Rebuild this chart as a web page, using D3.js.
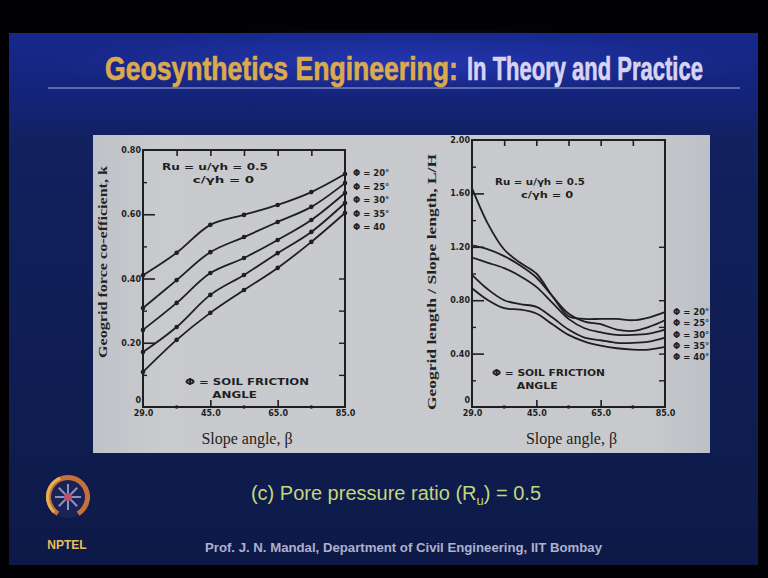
<!DOCTYPE html>
<html>
<head>
<meta charset="utf-8">
<script src="https://cdn.jsdelivr.net/npm/d3@7"></script>
<style>
  html, body { margin: 0; padding: 0; background: #000; }
  svg { display: block; }
</style>
</head>
<body>
<div id="app"></div>
<script>
const WIDTH = 768;
const HEIGHT = 578;

// slope angle (deg) where the curves are sampled
const betaLeft = [25, 35, 45, 55, 65, 75, 85];
const betaRight = [25, 30, 35, 40, 45, 50, 55, 60, 65, 70, 75, 80, 85];

const phiLabelsLeft = ['Φ = 20°', 'Φ = 25°', 'Φ = 30°', 'Φ = 35°', 'Φ = 40'];
const phiLabelsRight = ['Φ = 20°', 'Φ = 25°', 'Φ = 30°', 'Φ = 35°', 'Φ = 40°'];

// geogrid force co-efficient k, one row per phi
const kPhi20 = [0.41, 0.48, 0.567, 0.598, 0.629, 0.669, 0.725];
const kPhi25 = [0.308, 0.395, 0.482, 0.529, 0.576, 0.623, 0.697];
const kPhi30 = [0.24, 0.324, 0.417, 0.464, 0.52, 0.582, 0.666];
const kPhi35 = [0.171, 0.249, 0.349, 0.411, 0.479, 0.545, 0.635];
const kPhi40 = [0.109, 0.209, 0.293, 0.364, 0.433, 0.514, 0.604];

// geogrid length / slope length L/H
const lhPhi20 = [1.64, 1.37, 1.18, 1.08, 1.0, 0.83, 0.68, 0.66, 0.66, 0.66, 0.65, 0.67, 0.71];
const lhPhi25 = [1.21, 1.18, 1.13, 1.06, 0.97, 0.83, 0.70, 0.64, 0.62, 0.58, 0.57, 0.60, 0.65];
const lhPhi30 = [1.12, 1.08, 1.04, 0.98, 0.90, 0.78, 0.66, 0.59, 0.56, 0.54, 0.54, 0.55, 0.58];
const lhPhi35 = [0.99, 0.88, 0.80, 0.77, 0.75, 0.67, 0.58, 0.52, 0.50, 0.48, 0.48, 0.49, 0.52];
const lhPhi40 = [0.89, 0.80, 0.74, 0.73, 0.70, 0.62, 0.54, 0.49, 0.46, 0.44, 0.43, 0.43, 0.45];

const xTickValues = [25, 45, 65, 85];
const xTickLabels = ['29.0', '45.0', '65.0', '85.0'];
const kTickValues = [0, 0.2, 0.4, 0.6, 0.8];
const kTickLabels = ['0', '0.20', '0.40', '0.60', '0.80'];
const lhTickValues = [0, 0.4, 0.8, 1.2, 1.6, 2.0];
const lhTickLabels = ['0', '0.40', '0.80', '1.20', '1.60', '2.00'];

const ink = '#1f1f22';
const stencil = '"DejaVu Sans", sans-serif';
const serif = '"Liberation Serif", "DejaVu Serif", serif';

const svg = d3.select('#app')
  .append('svg')
  .attr('width', WIDTH)
  .attr('height', HEIGHT);

const defs = svg.append('defs');

const bg = defs.append('linearGradient').attr('id', 'slideBg')
  .attr('x1', 0).attr('y1', 0).attr('x2', 0).attr('y2', 1);
bg.append('stop').attr('offset', '0%').attr('stop-color', '#16288a');
bg.append('stop').attr('offset', '12%').attr('stop-color', '#14237a');
bg.append('stop').attr('offset', '20%').attr('stop-color', '#12215f');
bg.append('stop').attr('offset', '100%').attr('stop-color', '#0d1a48');

const glow = defs.append('radialGradient').attr('id', 'titleGlow')
  .attr('cx', '50%').attr('cy', '50%').attr('r', '50%');
glow.append('stop').attr('offset', '0%').attr('stop-color', '#2a3cc0').attr('stop-opacity', 0.7);
glow.append('stop').attr('offset', '100%').attr('stop-color', '#2a3cc0').attr('stop-opacity', 0);

const paper = defs.append('linearGradient').attr('id', 'paper')
  .attr('x1', 0).attr('y1', 0).attr('x2', 1).attr('y2', 0);
paper.append('stop').attr('offset', '0%').attr('stop-color', '#bfc2c8');
paper.append('stop').attr('offset', '10%').attr('stop-color', '#c9cacd');
paper.append('stop').attr('offset', '90%').attr('stop-color', '#c8c9cc');
paper.append('stop').attr('offset', '100%').attr('stop-color', '#bcc0c7');

// slide frame
svg.append('rect').attr('width', WIDTH).attr('height', HEIGHT).attr('fill', '#020204');
svg.append('rect').attr('x', 9).attr('y', 33).attr('width', 749).attr('height', 532)
  .attr('fill', 'url(#slideBg)');
svg.append('ellipse').attr('cx', 400).attr('cy', 62).attr('rx', 360).attr('ry', 34)
  .attr('fill', 'url(#titleGlow)');
svg.append('line').attr('x1', 48).attr('x2', 740).attr('y1', 88).attr('y2', 88)
  .attr('stroke', '#7482b8').attr('stroke-width', 1.5);

// condensed title: squeeze each part horizontally to the width it has in the slide
function squeezed(str, x0, x1, yBase, size, color) {
  const t = svg.append('text').attr('x', 0).attr('y', 0)
    .style('font-family', '"Liberation Sans", Arial, sans-serif').style('font-weight', 'bold')
    .style('font-size', size + 'px').attr('fill', color)
    .attr('stroke', color).attr('stroke-width', 0.7)
    .text(str);
  const w = t.node().getComputedTextLength();
  t.attr('transform', `translate(${x0},${yBase}) scale(${(x1 - x0) / w},1)`);
  return t;
}
squeezed('Geosynthetics Engineering:', 105, 458, 80, 33, '#dba94e');
squeezed('In Theory and Practice', 467, 703, 80, 33, '#d6d4f2');

// scanned figure panel
svg.append('rect').attr('x', 93).attr('y', 135).attr('width', 617).attr('height', 318)
  .attr('fill', 'url(#paper)');

function drawChart(cfg) {
  const x = d3.scaleLinear().domain([25, 85]).range([cfg.x0, cfg.x1]);
  const y = d3.scaleLinear().domain(cfg.yDomain).range([cfg.y1, cfg.y0]);
  const g = svg.append('g');

  // frame
  g.append('rect').attr('x', cfg.x0).attr('y', cfg.y0)
    .attr('width', cfg.x1 - cfg.x0).attr('height', cfg.y1 - cfg.y0)
    .attr('fill', 'none').attr('stroke', ink).attr('stroke-width', 2);

  // left axis, ticks pointing inward
  const left = g.append('g').attr('transform', `translate(${cfg.x0},0)`)
    .call(d3.axisLeft(y).tickValues(cfg.yTicks).tickSize(-12).tickPadding(2)
      .tickFormat((d, i) => cfg.yLabels[i]));
  left.select('.domain').remove();
  left.selectAll('line').attr('stroke', ink).attr('stroke-width', 1.6);
  left.selectAll('text').attr('fill', ink)
    .style('font-family', stencil).style('font-size', '8px').style('font-weight', 'bold');
  left.selectAll('.tick').filter(d => d === cfg.yTicks[cfg.yTicks.length - 1]).select('line').remove();
  const zero = left.selectAll('.tick').filter(d => d === 0);
  zero.select('line').remove();
  zero.select('text').attr('dy', '-0.6em');

  const minorLeft = g.append('g').attr('transform', `translate(${cfg.x0},0)`)
    .call(d3.axisLeft(y).tickValues(cfg.yMinor).tickSize(-4).tickFormat(''));
  minorLeft.select('.domain').remove();
  minorLeft.selectAll('line').attr('stroke', ink).attr('stroke-width', 1.4);

  const right = g.append('g').attr('transform', `translate(${cfg.x1},0)`)
    .call(d3.axisRight(y).tickValues(cfg.yRightTicks).tickSize(-6).tickFormat(''));
  right.select('.domain').remove();
  right.selectAll('line').attr('stroke', ink).attr('stroke-width', 1.4);

  // bottom axis
  const bottom = g.append('g').attr('transform', `translate(0,${cfg.y1})`)
    .call(d3.axisBottom(x).tickValues(xTickValues).tickSize(-7).tickPadding(3)
      .tickFormat((d, i) => xTickLabels[i]));
  bottom.select('.domain').remove();
  bottom.selectAll('line').attr('stroke', ink).attr('stroke-width', 1.6);
  bottom.selectAll('.tick').filter(d => d === 25 || d === 85).select('line').remove();
  bottom.selectAll('text').attr('fill', ink)
    .style('font-family', stencil).style('font-size', '8px').style('font-weight', 'bold');

  const top = g.append('g').attr('transform', `translate(0,${cfg.y0})`)
    .call(d3.axisTop(x).tickValues([35, 45, 55, 65, 75]).tickSize(-6).tickFormat(''));
  top.select('.domain').remove();
  top.selectAll('line').attr('stroke', ink).attr('stroke-width', 1.6);

  g.selectAll('circle.minor').data([35, 55, 75]).enter().append('circle')
    .attr('cx', d => x(d)).attr('cy', cfg.y1).attr('r', 1.8).attr('fill', ink);

  // axis titles
  g.append('text')
    .attr('transform', `translate(${cfg.labelX},${cfg.labelY}) rotate(-90)`)
    .attr('text-anchor', 'middle').attr('fill', '#222')
    .attr('textLength', cfg.labelLen).attr('lengthAdjust', 'spacingAndGlyphs')
    .style('font-family', serif).style('font-size', '13px').style('font-weight', 'bold')
    .text(cfg.yTitle);
  g.append('text').attr('x', (cfg.x0 + cfg.x1) / 2 + 3).attr('y', cfg.y1 + 37)
    .attr('text-anchor', 'middle').attr('fill', '#222')
    .style('font-family', serif).style('font-size', '16px')
    .text('Slope angle, β');

  // curves
  const line = d3.line().x(d => x(d[0])).y(d => y(d[1])).curve(d3.curveCatmullRom.alpha(0.5));
  cfg.series.forEach(s => {
    const pts = cfg.beta.map((b, i) => [b, s[i]]);
    g.append('path').attr('d', line(pts)).attr('fill', 'none')
      .attr('stroke', ink).attr('stroke-width', 1.8);
    if (cfg.dots) {
      g.selectAll(null).data(pts).enter().append('circle')
        .attr('cx', d => x(d[0])).attr('cy', d => y(d[1])).attr('r', 2.3).attr('fill', ink);
    }
  });

  // phi labels on the right
  cfg.phiLabels.forEach((t, i) => {
    g.append('text').attr('x', cfg.x1 + 8).attr('y', cfg.phiY0 + i * cfg.phiDy + 3)
      .attr('fill', ink).style('font-family', stencil).style('font-size', '8.5px')
      .style('font-weight', 'bold').text(t);
  });

  // notes
  const note = (tx, ty, str, len) => g.append('text').attr('x', tx).attr('y', ty)
    .attr('fill', ink).attr('textLength', len).attr('lengthAdjust', 'spacingAndGlyphs')
    .style('font-family', stencil).style('font-size', '8px').style('font-weight', 'bold')
    .text(str);
  note(cfg.noteX, cfg.noteY, 'Ru = u/γh = 0.5', cfg.noteLen);
  note(cfg.noteX + cfg.noteLen * 0.29, cfg.noteY + 13, 'c/γh = 0', cfg.noteLen * 0.58);
  note(cfg.phiNoteX, cfg.phiNoteY, 'Φ = SOIL FRICTION', cfg.phiNoteLen);
  note(cfg.phiNoteX + cfg.phiNoteLen * 0.22, cfg.phiNoteY + 13, 'ANGLE', cfg.phiNoteLen * 0.36);
}

drawChart({
  x0: 143, x1: 345, y0: 150, y1: 407,
  yDomain: [0, 0.8],
  yTicks: kTickValues, yLabels: kTickLabels,
  yMinor: [0.1, 0.3, 0.5, 0.7],
  yRightTicks: [0.1, 0.2, 0.3, 0.4],
  beta: betaLeft,
  series: [kPhi20, kPhi25, kPhi30, kPhi35, kPhi40],
  dots: true,
  phiLabels: phiLabelsLeft, phiY0: 173, phiDy: 13.5,
  yTitle: 'Geogrid force co-efficient, k', labelX: 107, labelY: 262, labelLen: 192,
  noteX: 162, noteY: 170, noteLen: 106,
  phiNoteX: 185, phiNoteY: 385, phiNoteLen: 124
});

drawChart({
  x0: 472, x1: 665, y0: 140, y1: 407,
  yDomain: [0, 2.0],
  yTicks: lhTickValues, yLabels: lhTickLabels,
  yMinor: [0.2, 0.6, 1.0, 1.4, 1.8],
  yRightTicks: [0.2, 0.4, 0.6, 0.8, 1.2],
  beta: betaRight,
  series: [lhPhi20, lhPhi25, lhPhi30, lhPhi35, lhPhi40],
  dots: false,
  phiLabels: phiLabelsRight, phiY0: 312, phiDy: 11.3,
  yTitle: 'Geogrid length / Slope length, L/H', labelX: 436, labelY: 282, labelLen: 256,
  noteX: 495, noteY: 185, noteLen: 90,
  phiNoteX: 492, phiNoteY: 376, phiNoteLen: 113
});

// caption
const cap = svg.append('text').attr('x', 396).attr('y', 500).attr('text-anchor', 'middle')
  .attr('fill', '#c4d77a')
  .style('font-family', '"Liberation Sans", Arial, sans-serif').style('font-size', '20px');
cap.append('tspan').text('(c) Pore pressure ratio (R');
cap.append('tspan').attr('dy', 5).style('font-size', '13px').text('u');
cap.append('tspan').attr('dy', -5).text(') = 0.5');

svg.append('text').attr('x', 205).attr('y', 552)
  .attr('textLength', 397).attr('lengthAdjust', 'spacingAndGlyphs')
  .attr('fill', '#aeb0cc')
  .style('font-family', '"Liberation Sans", Arial, sans-serif').style('font-weight', 'bold')
  .style('font-size', '12px')
  .text('Prof. J. N. Mandal, Department of Civil Engineering, IIT Bombay');

// NPTEL logo
const logo = svg.append('g').attr('transform', 'translate(68,497)');
logo.append('circle').attr('r', 21).attr('fill', '#1a2356');
logo.append('path')
  .attr('d', d3.arc().innerRadius(17).outerRadius(22).startAngle(-2.6).endAngle(2.6)())
  .attr('fill', '#c8703c');
logo.append('path')
  .attr('d', d3.arc().innerRadius(19).outerRadius(22).startAngle(-2.4).endAngle(-0.4)())
  .attr('fill', '#e1b452');
d3.range(8).forEach(i => {
  const a = i * Math.PI / 4;
  logo.append('line').attr('x1', 4 * Math.cos(a)).attr('y1', 4 * Math.sin(a))
    .attr('x2', 13 * Math.cos(a)).attr('y2', 13 * Math.sin(a))
    .attr('stroke', '#8f93c0').attr('stroke-width', 2);
});
logo.append('circle').attr('r', 4).attr('fill', '#c0506a');
svg.append('text').attr('x', 67).attr('y', 549).attr('text-anchor', 'middle')
  .attr('fill', '#e7bf5a')
  .style('font-family', '"Liberation Sans", Arial, sans-serif').style('font-weight', 'bold')
  .style('font-size', '12px').text('NPTEL');
</script>
</body>
</html>
